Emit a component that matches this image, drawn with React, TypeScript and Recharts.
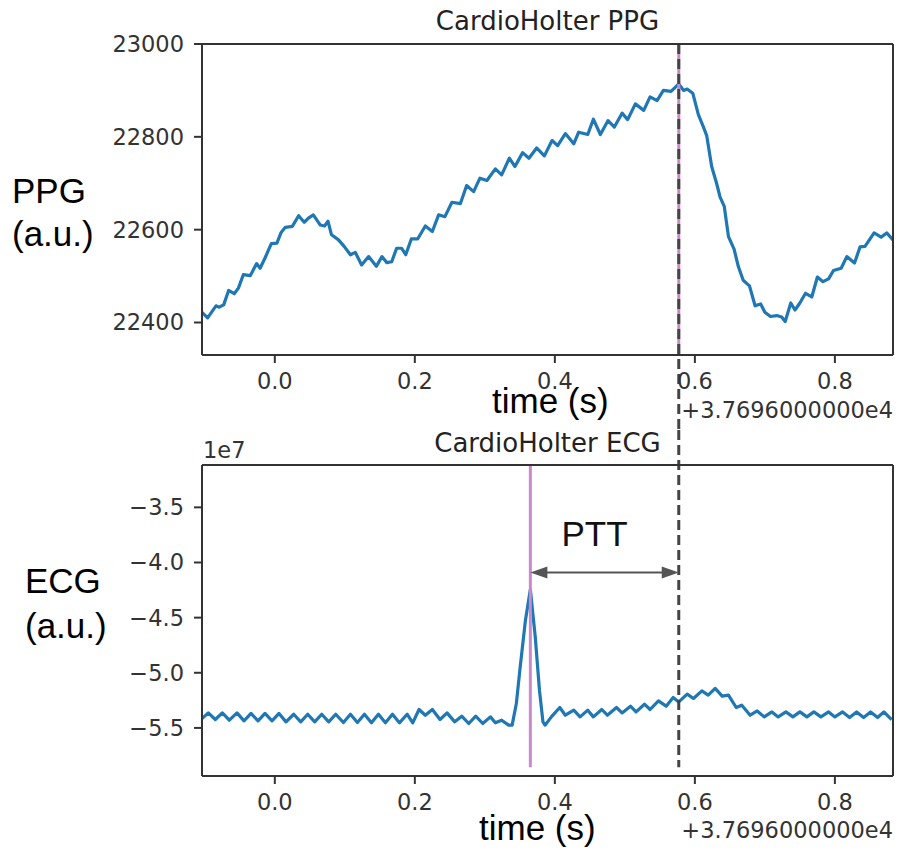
import React from 'react';
import { LineChart, Line, XAxis, YAxis, ReferenceLine } from 'recharts';

// ---- data ----
const ppgTime = [
  -0.104, -0.096, -0.084, -0.08, -0.073, -0.066, -0.058, -0.052, -0.045, -0.035,
  -0.026, -0.021, -0.014, -0.005, 0.003, 0.009, 0.015, 0.025, 0.034, 0.042,
  0.048, 0.055, 0.065, 0.071, 0.076, 0.081, 0.091, 0.099, 0.108, 0.115,
  0.124, 0.134, 0.145, 0.153, 0.16, 0.167, 0.174, 0.181, 0.187, 0.195,
  0.204, 0.215, 0.225, 0.234, 0.243, 0.253, 0.265, 0.274, 0.284, 0.293,
  0.303, 0.315, 0.324, 0.335, 0.343, 0.354, 0.363, 0.374, 0.385, 0.396,
  0.404, 0.415, 0.427, 0.434, 0.447, 0.455, 0.465, 0.476, 0.485, 0.496,
  0.504, 0.515, 0.527, 0.536, 0.546, 0.555, 0.566, 0.577, 0.584, 0.589,
  0.597, 0.605, 0.612, 0.617, 0.624, 0.631, 0.636, 0.642, 0.648, 0.656,
  0.662, 0.669, 0.678, 0.686, 0.694, 0.7, 0.708, 0.717, 0.724, 0.729,
  0.737, 0.743, 0.75, 0.758, 0.767, 0.775, 0.783, 0.791, 0.798, 0.809,
  0.817, 0.828, 0.836, 0.843, 0.856, 0.866, 0.874, 0.883,
];
const ppgValue = [
  22422, 22410, 22436, 22433, 22438, 22469, 22462, 22474, 22503, 22501,
  22527, 22517, 22539, 22570, 22571, 22594, 22605, 22607, 22630, 22616,
  22625, 22632, 22610, 22608, 22618, 22589, 22578, 22564, 22546, 22551,
  22524, 22542, 22521, 22542, 22529, 22531, 22560, 22560, 22546, 22580,
  22580, 22608, 22596, 22632, 22628, 22659, 22656, 22695, 22682, 22711,
  22706, 22731, 22718, 22754, 22736, 22766, 22754, 22776, 22759, 22792,
  22781, 22807, 22785, 22810, 22805, 22838, 22805, 22835, 22821, 22851,
  22837, 22871, 22857, 22886, 22878, 22900, 22898, 22914, 22900, 22903,
  22894, 22848, 22822, 22802, 22736, 22700, 22670, 22650, 22585, 22558,
  22521, 22491, 22479, 22436, 22440, 22422, 22413, 22415, 22412, 22402,
  22442, 22427, 22442, 22463, 22455, 22498, 22488, 22494, 22512, 22517,
  22542, 22528, 22563, 22564, 22593, 22584, 22593, 22578,
];

const ecgTime = [
  -0.104, -0.095, -0.085, -0.075, -0.065, -0.054, -0.044, -0.034, -0.024, -0.014,
  -0.004, 0.006, 0.016, 0.027, 0.037, 0.047, 0.057, 0.067, 0.077, 0.087,
  0.098, 0.108, 0.118, 0.128, 0.138, 0.148, 0.158, 0.168, 0.178, 0.189,
  0.197, 0.206, 0.215, 0.225, 0.236, 0.246, 0.257, 0.267, 0.277, 0.287,
  0.297, 0.308, 0.315, 0.324, 0.334, 0.339, 0.345, 0.35, 0.358, 0.365,
  0.372, 0.378, 0.383, 0.386, 0.395, 0.407, 0.415, 0.427, 0.436, 0.447,
  0.455, 0.467, 0.475, 0.488, 0.496, 0.508, 0.516, 0.528, 0.536, 0.548,
  0.559, 0.569, 0.577, 0.589, 0.598, 0.61, 0.619, 0.629, 0.639, 0.648,
  0.659, 0.667, 0.679, 0.689, 0.699, 0.71, 0.719, 0.73, 0.74, 0.75,
  0.76, 0.77, 0.78, 0.791, 0.8, 0.811, 0.821, 0.831, 0.841, 0.851,
  0.861, 0.87, 0.881,
];
// ECG values in units of 1e7
const ecgValue = [
  -5.415, -5.364, -5.424, -5.364, -5.43, -5.364, -5.436, -5.369, -5.436, -5.369,
  -5.436, -5.369, -5.445, -5.376, -5.445, -5.376, -5.445, -5.376, -5.445, -5.376,
  -5.451, -5.376, -5.451, -5.376, -5.454, -5.376, -5.454, -5.376, -5.454, -5.376,
  -5.454, -5.333, -5.385, -5.333, -5.424, -5.364, -5.445, -5.394, -5.46, -5.394,
  -5.46, -5.4, -5.454, -5.43, -5.475, -5.475, -5.279, -4.976, -4.523, -4.244,
  -4.674, -5.158, -5.445, -5.475, -5.4, -5.315, -5.385, -5.339, -5.4, -5.339,
  -5.4, -5.333, -5.385, -5.315, -5.364, -5.303, -5.355, -5.285, -5.333, -5.255,
  -5.303, -5.224, -5.264, -5.194, -5.233, -5.164, -5.203, -5.142, -5.212, -5.203,
  -5.315, -5.294, -5.385, -5.346, -5.4, -5.355, -5.4, -5.355, -5.4, -5.355,
  -5.4, -5.355, -5.4, -5.355, -5.4, -5.355, -5.406, -5.355, -5.406, -5.355,
  -5.406, -5.355, -5.424,
];

const timeTicks = [0, 0.2, 0.4, 0.6, 0.8];
const ppgTicks = [22400, 22600, 22800, 23000];
const ecgTicks = [-5.5, -5.0, -4.5, -4.0, -3.5];

const timeDomain: [number, number] = [-0.104, 0.883];
const ppgDomain: [number, number] = [22330, 23000];
const ecgDomain: [number, number] = [-5.936, -3.116];

const pulseArrival = 0.577; // PPG peak (dashed)
const rPeak = 0.365; // ECG R peak
const arrowLevel = -4.09; // ECG units, PTT arrow
const ppgDashBottom = 22168; // dashed line continues below the PPG axes
const ecgDashTop = -2.798; // dashed line continues above the ECG axes
const ecgLineBottom = -5.857;

const ppgData = ppgTime.map((t, i) => ({ t, v: ppgValue[i] }));
const ecgData = ecgTime.map((t, i) => ({ t, v: ecgValue[i] }));

const AX = '#333333';
const tickStyle = { fill: '#333333', fontSize: 22.5, fontFamily: 'DejaVu Sans' };
const axisLine = { stroke: AX, strokeWidth: 2 };
const fmtTime = (v: number) => v.toFixed(1);
const fmtEcg = (v: number) => v.toFixed(1).replace('-', '\u2212');

const ArrowShape = (props: any) => {
  const { x1, y1, x2 } = props;
  const hl = 17;
  const hw = 6;
  const left = Math.min(x1, x2);
  const right = Math.max(x1, x2);
  const y = y1;
  return (
    <g>
      <line x1={left + hl - 2} y1={y} x2={right - hl + 2} y2={y} stroke="#555555" strokeWidth={2} />
      <polygon points={`${left},${y} ${left + hl},${y - hw} ${left + hl},${y + hw}`} fill="#555555" />
      <polygon points={`${right},${y} ${right - hl},${y - hw} ${right - hl},${y + hw}`} fill="#555555" />
      <text
        x={(left + right) / 2 - 10}
        y={y - 26}
        textAnchor="middle"
        fontFamily="Liberation Sans, Arial, sans-serif"
        fontSize={35}
        fill="#111"
      >
        PTT
      </text>
    </g>
  );
};

export default function App() {
  const W = 899;
  const lineProps = {
    dataKey: 'v',
    type: 'linear' as const,
    stroke: '#1f77b4',
    strokeWidth: 3.2,
    strokeLinejoin: 'round' as const,
    dot: false,
    activeDot: false,
    isAnimationActive: false,
  };
  return (
    <div style={{ position: 'absolute', left: 0, top: 0, width: W, height: 856, background: '#fff' }}>
      <div style={{ position: 'absolute', left: 0, top: 0 }}>
        <LineChart width={W} height={430} data={ppgData} margin={{ top: 43, right: 5, left: 102, bottom: 0 }}>
          <XAxis
            dataKey="t"
            type="number"
            domain={timeDomain}
            allowDataOverflow
            ticks={timeTicks}
            interval={0}
            tickFormatter={fmtTime}
            tick={tickStyle}
            tickSize={8}
            tickMargin={10}
            axisLine={axisLine}
            tickLine={axisLine}
            height={75}
          />
          <XAxis xAxisId="top" orientation="top" dataKey="t" type="number" domain={timeDomain} allowDataOverflow tick={false} tickLine={false} axisLine={axisLine} height={1} />
          <YAxis
            type="number"
            domain={ppgDomain}
            allowDataOverflow
            ticks={ppgTicks}
            interval={0}
            tick={tickStyle}
            tickSize={8}
            tickMargin={10}
            axisLine={axisLine}
            tickLine={axisLine}
            width={100}
          />
          <YAxis yAxisId="right" orientation="right" type="number" domain={ppgDomain} allowDataOverflow tick={false} tickLine={false} axisLine={axisLine} width={1} />
          <Line {...lineProps} />
          <ReferenceLine
            segment={[{ x: pulseArrival, y: ppgDomain[0] }, { x: pulseArrival, y: ppgDomain[1] }]}
            stroke="#cc88cc"
            strokeWidth={3}
            ifOverflow="visible"
          />
          <ReferenceLine
            segment={[{ x: pulseArrival, y: ppgDomain[1] }, { x: pulseArrival, y: ppgDashBottom }]}
            stroke="#444444"
            strokeWidth={3}
            strokeDasharray="10 5"
            ifOverflow="visible"
          />
        </LineChart>
      </div>
      <div style={{ position: 'absolute', left: 0, top: 430 }}>
        <LineChart width={W} height={426} data={ecgData} margin={{ top: 34, right: 5, left: 102, bottom: 0 }}>
          <XAxis
            dataKey="t"
            type="number"
            domain={timeDomain}
            allowDataOverflow
            ticks={timeTicks}
            interval={0}
            tickFormatter={fmtTime}
            tick={tickStyle}
            tickSize={8}
            tickMargin={10}
            axisLine={axisLine}
            tickLine={axisLine}
            height={80}
          />
          <XAxis xAxisId="top" orientation="top" dataKey="t" type="number" domain={timeDomain} allowDataOverflow tick={false} tickLine={false} axisLine={axisLine} height={1} />
          <YAxis
            type="number"
            domain={ecgDomain}
            allowDataOverflow
            ticks={ecgTicks}
            interval={0}
            tickFormatter={fmtEcg}
            tick={tickStyle}
            tickSize={8}
            tickMargin={10}
            axisLine={axisLine}
            tickLine={axisLine}
            width={100}
          />
          <YAxis yAxisId="right" orientation="right" type="number" domain={ecgDomain} allowDataOverflow tick={false} tickLine={false} axisLine={axisLine} width={1} />
          <Line {...lineProps} />
          <ReferenceLine
            segment={[{ x: rPeak, y: ecgDomain[1] }, { x: rPeak, y: ecgLineBottom }]}
            stroke="#cc88cc"
            strokeWidth={3}
            ifOverflow="visible"
          />
          <ReferenceLine
            segment={[{ x: pulseArrival, y: ecgDashTop }, { x: pulseArrival, y: ecgLineBottom }]}
            stroke="#444444"
            strokeWidth={3}
            strokeDasharray="10 5"
            ifOverflow="visible"
          />
          <ReferenceLine
            segment={[{ x: rPeak, y: arrowLevel }, { x: pulseArrival, y: arrowLevel }]}
            shape={ArrowShape}
            ifOverflow="visible"
          />
        </LineChart>
      </div>
      <svg
        width={W}
        height={856}
        style={{ position: 'absolute', left: 0, top: 0, pointerEvents: 'none' }}
      >
        <g fontFamily="DejaVu Sans" fill="#222">
          <text x={547.5} y={30} fontSize={26} textAnchor="middle">CardioHolter PPG</text>
          <text x={547.5} y={451.5} fontSize={26} textAnchor="middle">CardioHolter ECG</text>
          <text x={893} y={418} fontSize={22.5} textAnchor="end" fill="#333">+3.7696000000e4</text>
          <text x={893} y={838} fontSize={22.5} textAnchor="end" fill="#333">+3.7696000000e4</text>
          <text x={203} y={458} fontSize={22.5} textAnchor="start" fill="#333">1e7</text>
        </g>
        <g fontFamily="Liberation Sans, Arial, sans-serif" fill="#000">
          <text x={12} y={203} fontSize={35}>PPG</text>
          <text x={12} y={246} fontSize={35}>(a.u.)</text>
          <text x={25} y={593} fontSize={35}>ECG</text>
          <text x={25} y={638} fontSize={35}>(a.u.)</text>
          <text x={492} y={413} fontSize={35}>time (s)</text>
          <text x={479} y={840} fontSize={35}>time (s)</text>
        </g>
      </svg>
    </div>
  );
}
